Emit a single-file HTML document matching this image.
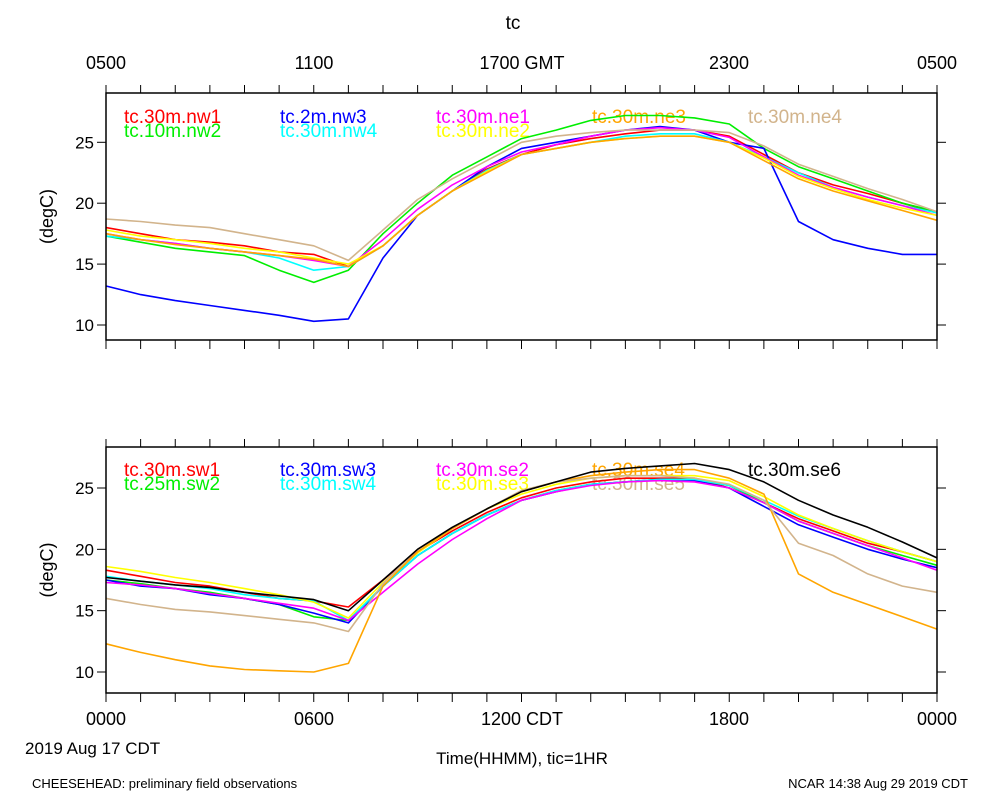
<!DOCTYPE html>
<html><head><meta charset="utf-8"><style>
body{margin:0;background:#fff}
svg{display:block;font-family:"Liberation Sans",sans-serif}
</style></head><body>
<svg id="c" width="1000" height="800" xmlns="http://www.w3.org/2000/svg">
<text x="513" y="29" font-size="19" text-anchor="middle">tc</text>
<g font-size="18" text-anchor="middle">
<text x="106" y="69">0500</text><text x="314" y="69">1100</text><text x="522" y="69">1700 GMT</text><text x="729" y="69">2300</text><text x="937" y="69">0500</text>
</g>
<g font-size="18" text-anchor="middle">
<text x="106" y="725">0000</text><text x="314" y="725">0600</text><text x="522" y="725">1200 CDT</text><text x="729" y="725">1800</text><text x="937" y="725">0000</text>
</g>
<text x="25" y="754" font-size="17">2019 Aug 17 CDT</text>
<text x="522" y="764" font-size="17" text-anchor="middle">Time(HHMM), tic=1HR</text>
<text x="32" y="788" font-size="13">CHEESEHEAD: preliminary field observations</text>
<text x="968" y="788" font-size="13" text-anchor="end">NCAR 14:38 Aug 29 2019 CDT</text>
<g id="p1"></g>
<g id="p2"></g>
</svg>
<script>
const hours=[0,1,2,3,4,5,6,7,8,9,10,11,12,13,14,15,16,17,18,19,20,21,22,23,24];
const yTicks=[10,15,20,25];
const topNames=["tc.30m.nw1","tc.10m.nw2","tc.2m.nw3","tc.30m.nw4","tc.30m.ne1","tc.30m.ne2","tc.30m.ne3","tc.30m.ne4"];
const topColors=["#ff0000","#00ee00","#0000ff","#00ffff","#ff00ff","#ffff00","#ffa500","#d2b48c"];
const nw1=[18,17.5,17,16.8,16.5,16,15.8,14.8,16.5,19,21,22.8,24,24.8,25.3,25.7,26,26,25.5,24,22.5,21.5,20.8,20,19.2];
const nw2=[17.3,16.8,16.3,16,15.7,14.5,13.5,14.5,17.5,20,22.3,23.8,25.3,26,26.8,27.2,27.2,27,26.5,24.5,23,22,21,20,19.3];
const nw3=[13.2,12.5,12,11.6,11.2,10.8,10.3,10.5,15.5,19,21,23,24.5,25,25.5,26,26.3,26,25,24.5,18.5,17,16.3,15.8,15.8];
const nw4=[17.3,17,16.7,16.3,16,15.5,14.5,14.8,16.5,19,21,22.7,24,24.5,25,25.5,25.7,25.7,25,23.8,22.5,21.3,20.5,19.8,19.2];
const ne1=[17.5,17,16.7,16.3,16,15.7,15.3,14.8,17,19.5,21.5,23,24.2,24.8,25.5,26,26.2,26,25.4,23.8,22.3,21.3,20.5,19.8,19];
const ne2=[17.8,17.3,17,16.7,16.3,16,15.5,15,16.5,19,21,22.6,24,24.5,25,25.3,25.5,25.5,25,23.7,22.2,21.2,20.3,19.6,19];
const ne3=[17.5,17,16.6,16.3,16,15.7,15.4,14.8,16.5,19,21,22.5,24,24.5,25,25.3,25.5,25.5,25,23.5,22,21,20.2,19.4,18.6];
const ne4=[18.7,18.5,18.2,18,17.5,17,16.5,15.3,17.8,20.3,22,23.5,25,25.5,25.8,26,26,26,25.8,24.7,23.2,22.2,21.2,20.3,19.3];
const botNames=["tc.30m.sw1","tc.25m.sw2","tc.30m.sw3","tc.30m.sw4","tc.30m.se2","tc.30m.se3","tc.30m.se4","tc.30m.se5","tc.30m.se6"];
const botColors=["#ff0000","#00ee00","#0000ff","#00ffff","#ff00ff","#ffff00","#ffa500","#d2b48c","#000000"];
const sw1=[18.3,17.8,17.3,17,16.5,16,15.8,15.3,17.5,19.8,21.5,23,24.2,25,25.5,25.8,25.8,25.8,25,23.8,22.5,21.5,20.5,19.8,19];
const sw2=[17.5,17.2,16.8,16.5,16,15.5,14.5,14.2,17,19.5,21.3,22.8,24,24.8,25.3,25.5,25.7,25.7,25.2,23.8,22.3,21.3,20.3,19.5,18.7];
const sw3=[17.5,17,16.8,16.3,16,15.5,14.8,14,17,19.5,21.3,22.8,24,24.7,25.3,25.5,25.7,25.6,25,23.5,22,21,20,19.2,18.5];
const sw4=[17.8,17.4,17.1,16.8,16.3,16,15.8,14.2,17,19.5,21.3,22.8,24,24.8,25.3,25.5,25.7,25.7,25.2,24,22.7,21.7,20.7,19.8,19];
const se2=[17.3,17.1,16.8,16.4,16,15.6,15.2,14.2,16.5,18.8,20.8,22.5,24,24.7,25.2,25.5,25.6,25.5,25,23.8,22.3,21.3,20.3,19.3,18.3];
const se3=[18.6,18.2,17.7,17.3,16.8,16.3,15.7,14.4,17.3,19.7,21.7,23.3,24.5,25.3,25.8,26,26,26,25.6,24.3,22.8,21.7,20.7,19.8,19];
const se4=[12.3,11.6,11,10.5,10.2,10.1,10,10.7,17,19.8,21.7,23.3,24.7,25.5,26,26.3,26.5,26.5,25.8,24.5,18,16.5,15.5,14.5,13.5];
const se5=[16,15.5,15.1,14.9,14.6,14.3,14,13.3,17.2,20,21.8,23.3,24.8,25.5,25.8,26,26,25.8,25.3,24,20.5,19.5,18,17,16.5];
const se6=[17.7,17.4,17.1,16.9,16.5,16.2,15.9,15,17.5,20,21.8,23.3,24.7,25.5,26.3,26.6,26.8,27,26.5,25.5,24,22.8,21.8,20.6,19.3];
const topSeries=[nw1,nw2,nw3,nw4,ne1,ne2,ne3,ne4];
const botSeries=[sw1,sw2,sw3,sw4,se2,se3,se4,se5,se6];

const NS="http://www.w3.org/2000/svg";
const L=106,R=937;
function el(tag,attrs,parent){const e=document.createElementNS(NS,tag);for(const k in attrs)e.setAttribute(k,attrs[k]);parent.appendChild(e);return e;}
function panel(g,top,bot,y25,y10,names,colors,series,legendPos){
  const xs=h=>L+(R-L)*h/24;
  const ys=v=>y10+(v-10)*(y25-y10)/15;
  names.forEach((n,i)=>{
    const p=legendPos[i];
    const t=el('text',{x:p[0],y:p[1],'font-size':19,fill:colors[i]},g);
    
    
    t.textContent=n;
  });
  series.forEach((s,i)=>{
    const d=s.map((v,j)=>(j?'L':'M')+xs(hours[j]).toFixed(1)+','+ys(v).toFixed(1)).join('');
    const p=el('path',{d:d,fill:'none',stroke:colors[i],'stroke-width':1.6,'stroke-linejoin':'round'},g);
    
    
  });
  const f=el('rect',{x:L,y:top,width:R-L,height:bot-top,fill:'none',stroke:'#000','stroke-width':1.5},g);
  
  
  hours.forEach(h=>{
    const x=xs(h);
    el('line',{x1:x,x2:x,y1:top-8,y2:top,stroke:'#000'},g);
    el('line',{x1:x,x2:x,y1:bot,y2:bot+9,stroke:'#000'},g);
  });
  yTicks.forEach(v=>{
    const y=ys(v);
    el('line',{x1:L-9,x2:L,y1:y,y2:y,stroke:'#000'},g);
    el('line',{x1:R,x2:R+9,y1:y,y2:y,stroke:'#000'},g);
    const t=el('text',{x:L-12,y:y+6,'font-size':17,'text-anchor':'end'},g);
    
    
    t.textContent=v;
  });
  const cy=(top+bot)/2;
  const yt=el('text',{x:53,y:cy,'font-size':18,'text-anchor':'middle',transform:'rotate(-90 53 '+cy+')'},g);
  
  
  yt.textContent='(degC)';
}
const cols=[124,280,436,592,748];
panel(document.getElementById('p1'),93,340,142.3,325,topNames,topColors,topSeries,
 [[cols[0],123],[cols[0],137],[cols[1],123],[cols[1],137],[cols[2],123],[cols[2],137],[cols[3],123],[cols[4],123]]);
panel(document.getElementById('p2'),447,693,488,672,botNames,botColors,botSeries,
 [[cols[0],476],[cols[0],490],[cols[1],476],[cols[1],490],[cols[2],476],[cols[2],490],[cols[3],476],[cols[3],490],[cols[4],476]]);
</script>
</body></html>
